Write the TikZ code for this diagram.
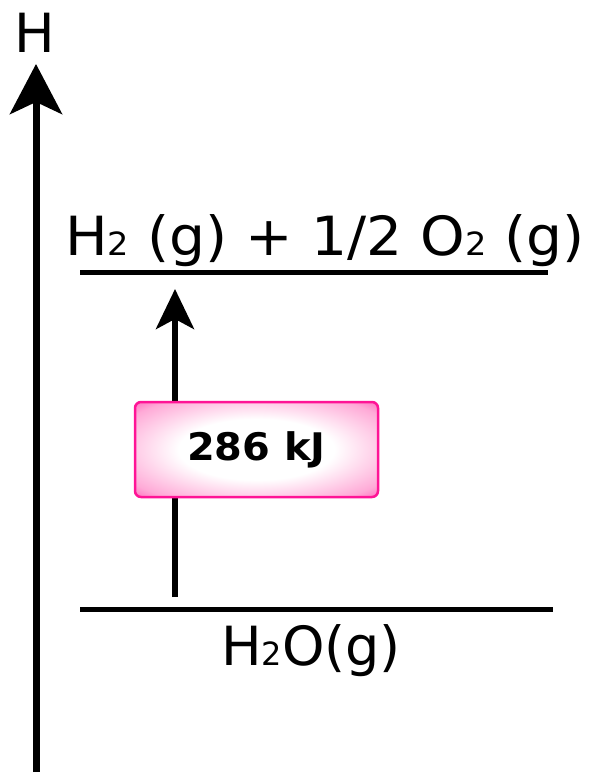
\documentclass[tikz,border=0pt]{standalone}
\usepackage{fontspec}
\setmainfont{DejaVu Sans}
\usetikzlibrary{arrows.meta}
\definecolor{boxpink}{RGB}{255,60,170}
\definecolor{boxmid}{RGB}{255,170,215}
\definecolor{boxedge}{RGB}{255,20,150}
\pgfdeclareradialshading{boxglow}{\pgfpoint{0bp}{0bp}}{%
  color(0bp)=(white); color(16bp)=(white); color(31bp)=(boxmid); color(40bp)=(boxpink); color(50bp)=(boxpink)}
\newcommand{\sbs}[1]{{\fontsize{32pt}{32pt}\selectfont #1}}
\tikzset{
  big/.style={font=\fontsize{54pt}{54pt}\selectfont, inner sep=0pt},
  level/.style={line width=5pt},
  axisarrow/.style={line width=7pt, -{Stealth[length=50pt,width=52pt,inset=12pt]}},
  upstep/.style={line width=6pt, -{Stealth[length=40pt,width=38pt,inset=10pt]}},
  energybox/.style={draw=boxedge, line width=2.5pt, rounded corners=6pt,
    shading=boxglow, minimum width=243pt, minimum height=95pt, inner sep=0pt,
    font=\bfseries\fontsize{38pt}{38pt}\selectfont}
}
\begin{document}
\begin{tikzpicture}[x=1pt,y=-1pt]
\useasboundingbox (0,0) rectangle (590,773);
% axis
\coordinate (axbot) at (36,772);
\coordinate (axtop) at (36,64);
\draw[axisarrow] (axbot) -- (axtop);
\node[big, anchor=base] (hlab) at (35,53) {H};
% levels
\coordinate (topL) at (80,272);
\coordinate (topR) at (548,272);
\coordinate (botL) at (80,609);
\coordinate (botR) at (553,609);
\draw[level] (topL) -- (topR);
\draw[level] (botL) -- (botR);
\node[big, anchor=base] (reac) at (325,255) {\scalebox{1.05}[1]{H\sbs{2} (g) + 1/2 O\sbs{2} (g)}};
\node[big, anchor=base] (prod) at (311,665) {H\sbs{2}O(g)};
% step arrow
\coordinate (sbot) at (175,597);
\coordinate (stop) at (175,289);
\draw[upstep] (sbot) -- (stop);
\node[energybox] (dh) at (256.5,449.5) {\scalebox{1.05}[1]{286 kJ}};
\end{tikzpicture}
\end{document}
